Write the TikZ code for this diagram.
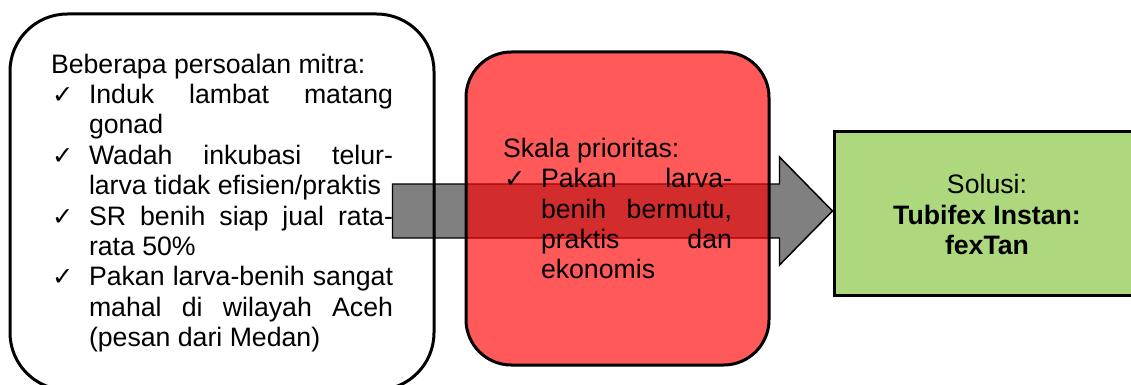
\documentclass[tikz,border=0pt]{standalone}
\usepackage{fontspec}
\setmainfont{Liberation Sans}
\newfontfamily\dejavu{DejaVu Sans}
\newdimen\px \px=0.75pt
\newcommand{\chk}{\makebox[38\px][l]{\hspace*{1\px}{\dejavu\fontsize{19pt}{19pt}\selectfont ✓}}}
\newcommand{\ind}{\hspace*{38\px}}
\newcommand{\jl}[2]{\makebox[#1\px][s]{#2}}
\definecolor{redfill}{RGB}{255,0,0}
\definecolor{greenfill}{RGB}{173,216,126}
\definecolor{arrowgray}{RGB}{128,128,128}
\begin{document}
\begin{tikzpicture}[x=0.75pt,y=-0.75pt,
  boxbase/.style={draw=black, line width=2.25pt, inner sep=0pt},
  leftbox/.style={boxbase, rounded corners=43pt, minimum width=318pt, minimum height=282pt},
  redbox/.style={boxbase, rounded corners=34pt, fill=redfill, fill opacity=0.65, text opacity=1, minimum width=227.25pt, minimum height=234.75pt},
  greenbox/.style={boxbase, fill=greenfill, minimum width=229.5pt, minimum height=123pt},
  blockarrow/.style={draw=black, line width=1.1pt, fill=arrowgray, line join=miter},
  txt/.style={font=\fontsize{20pt}{22.8pt}\selectfont}
]
\useasboundingbox (0,0) rectangle (1131,385);
\fill[white] (0,0) rectangle (1131,385);
\clip (0,0) rectangle (1131,385);

\node[greenbox, txt] (gbox) at (987,213) {\parbox[t]{300\px}{\centering\fontsize{20pt}{22.8pt}\selectfont
\vspace*{3\px}Solusi:\\
\textbf{Tubifex Instan:}\\
\textbf{fexTan}}};

\draw[blockarrow] ([yshift=1.5pt]gbox.west) -- ++(-53,-54) -- ++(0,27) -- ++(-387,0)
  -- ++(0,54) -- ++(387,0) -- ++(0,27) -- cycle;

\node[leftbox, txt] (lbox) at (222,202) {\parbox[t]{342\px}{\fontsize{20pt}{22.8pt}\selectfont
\vspace*{2\px}Beberapa persoalan mitra:\\
\chk\jl{304}{Induk lambat matang}\\
\ind gonad\\
\chk\jl{304}{Wadah inkubasi telur-}\\
\ind larva tidak efisien/praktis\\
\chk\jl{304}{SR benih siap jual rata-}\\
\ind rata 50\%\\
\chk\jl{304}{Pakan larva-benih sangat}\\
\ind\jl{304}{mahal di wilayah Aceh}\\
\ind (pesan dari Medan)}};

\node[redbox, txt] (rbox) at (617.5,208.5) {\parbox[t]{229\px}{\fontsize{20pt}{22.8pt}\selectfont
Skala prioritas:\\
\chk\jl{191}{Pakan larva-}\\
\ind\jl{191}{benih bermutu,}\\
\ind\jl{191}{praktis dan}\\
\ind ekonomis}};
\end{tikzpicture}
\end{document}
